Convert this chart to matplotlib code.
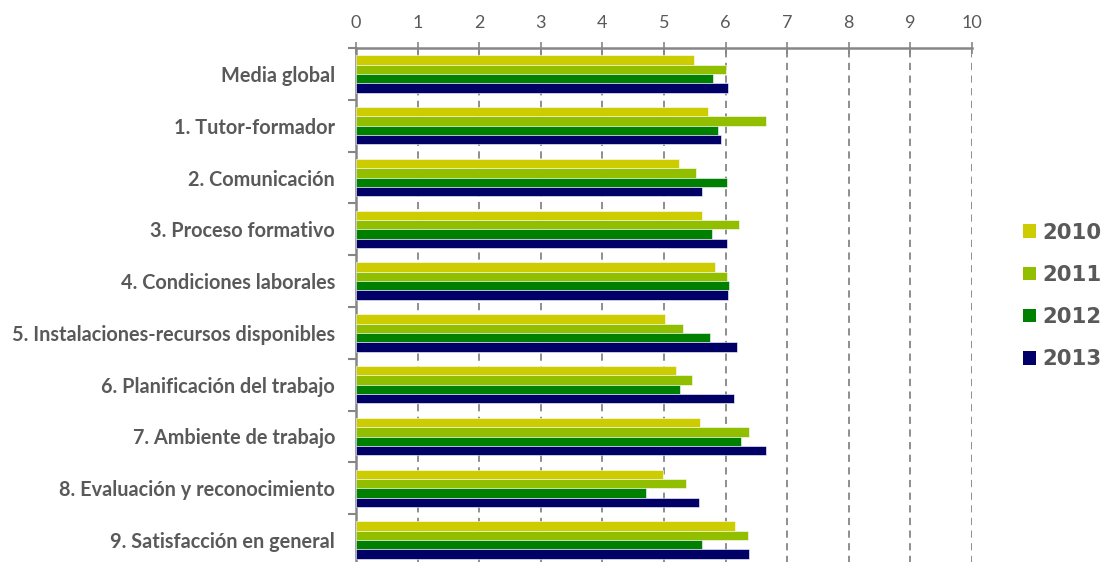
import matplotlib.pyplot as plt
import numpy as np
from matplotlib.patches import Patch

categorias = ['Media global', '1. Tutor-formador', '2. Comunicación', '3. Proceso formativo',
              '4. Condiciones laborales', '5. Instalaciones-recursos disponibles',
              '6. Planificación del trabajo', '7. Ambiente de trabajo',
              '8. Evaluación y reconocimiento', '9. Satisfacción en general']
anios = ['2010', '2011', '2012', '2013']
v2010 = [5.49, 5.72, 5.25, 5.61, 5.83, 5.01, 5.19, 5.59, 4.99, 6.16]
v2011 = [6.00, 6.66, 5.52, 6.21, 6.03, 5.31, 5.45, 6.38, 5.35, 6.37]
v2012 = [5.79, 5.88, 6.02, 5.78, 6.05, 5.75, 5.26, 6.25, 4.70, 5.62]
v2013 = [6.04, 5.92, 5.62, 6.03, 6.04, 6.18, 6.13, 6.66, 5.57, 6.38]
colores = ['#CCCC00', '#92BE00', '#008000', '#000066']

gris = '#868686'
texto = '#595959'

fig = plt.figure(figsize=(11.05, 5.62), dpi=100)
ax = fig.add_axes([356/1105, 1 - 566/562, 616/1105, 518/562])

y = np.arange(len(categorias))
h = 0.18
series = [v2010, v2011, v2012, v2013]
for i, (vals, c) in enumerate(zip(series, colores)):
    ax.barh(y + (i - 1.5) * h, vals, height=h, color=c, edgecolor='white', linewidth=0.4, zorder=3)

ax.set_xlim(0, 10)
ax.set_ylim(len(categorias) - 0.5, -0.5)

ax.xaxis.tick_top()
ax.set_xticks(range(11))
ax.tick_params(axis='x', direction='inout', length=8, width=1.2, color=gris,
               labelsize=13, labelcolor=texto, pad=8)
for lb in ax.get_xticklabels():
    lb.set_family('Lato')

ax.set_yticks(y)
ax.set_yticklabels(categorias, fontfamily='Lato', fontweight='bold', fontsize=14.3, color=texto)
ax.set_yticks(np.arange(-0.5, len(categorias), 1), minor=True)
ax.tick_params(axis='y', which='major', length=0, pad=15)
ax.tick_params(axis='y', which='minor', length=6, width=1.5, color=gris, direction='out')

for xv in range(1, 11):
    ax.axvline(xv, color=gris, linestyle=(0, (4, 3)), linewidth=1.3, zorder=1)

for s in ['right', 'bottom']:
    ax.spines[s].set_visible(False)
for s in ['left', 'top']:
    ax.spines[s].set_color(gris)
    ax.spines[s].set_linewidth(1.8)

handles = [Patch(facecolor=c, edgecolor='none') for c in colores]
fig.legend(handles, anios, loc='center left', bbox_to_anchor=(1023/1105, 1 - 296/562),
           frameon=False, borderpad=0, borderaxespad=0, handlelength=0.6, handleheight=0.6,
           handletextpad=0.3, labelspacing=1.05,
           prop={'family': 'DejaVu Sans', 'weight': 'bold', 'size': 15.3},
           labelcolor=texto)

fig.savefig('out.png', dpi=100)
